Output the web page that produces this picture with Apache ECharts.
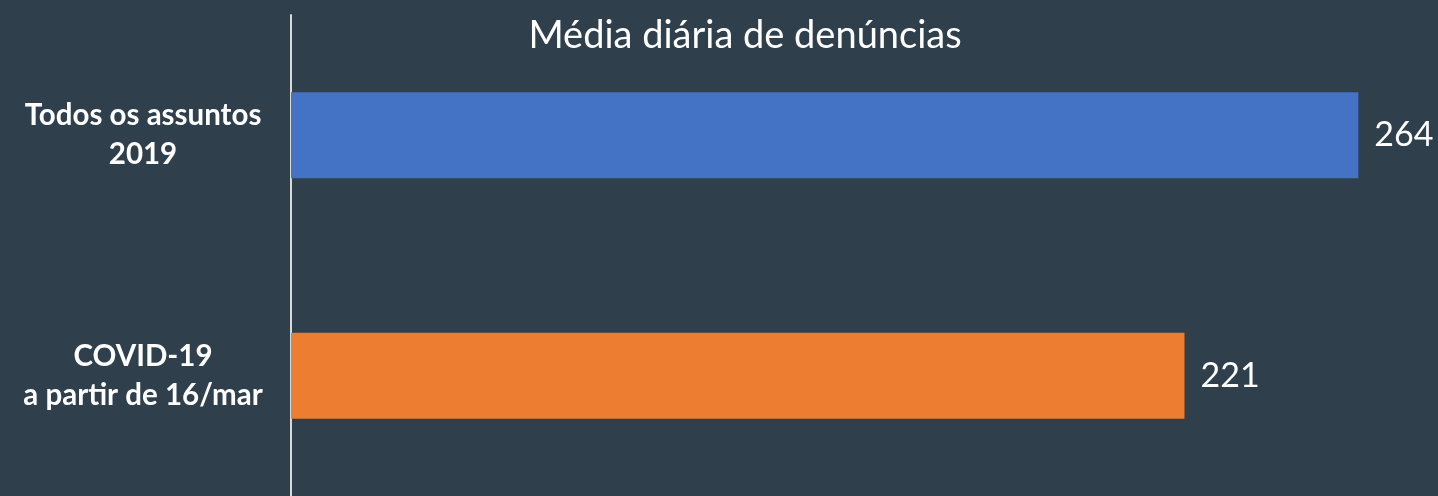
<!DOCTYPE html>
<html>
<head>
<meta charset="utf-8">
<script src="https://cdn.jsdelivr.net/npm/echarts@6/dist/echarts.min.js"></script>
<style>
  html, body { margin: 0; padding: 0; background: #2f3f4c; }
  #chart { width: 1438px; height: 496px; }
</style>
</head>
<body>
<div id="chart"></div>
<script>
// dados
var categorias = ['Todos os assuntos\n2019', 'COVID-19\na partir de 16/mar'];
var mediaDiaria = [264, 221];
var cores = ['#4472c4', '#ed7d31'];

var chart = echarts.init(document.getElementById('chart'));

var option = {
    backgroundColor: '#2f3f4c',
    title: {
        text: 'Média diária de denúncias',
        left: 740,
        textAlign: 'center',
        top: 12,
        textStyle: {
            color: '#ffffff',
            fontFamily: 'Lato',
            fontWeight: 'normal',
            fontSize: 38
        }
    },
    grid: {
        left: 291,
        right: 15,
        top: 15,
        bottom: -9
    },
    xAxis: {
        type: 'value',
        min: 0,
        max: 280,
        show: false
    },
    yAxis: {
        type: 'category',
        inverse: true,
        data: categorias,
        axisLine: { show: true, lineStyle: { color: '#d9d9d9', width: 2 } },
        axisTick: { show: false },
        axisLabel: {
            color: '#ffffff',
            fontFamily: 'Lato',
            fontWeight: 'bold',
            fontSize: 29.5,
            lineHeight: 39,
            align: 'center',
            margin: 148
        }
    },
    series: [{
        type: 'bar',
        barWidth: 86,
        data: mediaDiaria.map(function (v, i) {
            return { value: v, itemStyle: { color: cores[i] } };
        }),
        label: {
            show: true,
            position: 'right',
            distance: 16,
            color: '#ffffff',
            fontFamily: 'Lato',
            fontSize: 34
        }
    }]
};

chart.setOption(option);
</script>
</body>
</html>
